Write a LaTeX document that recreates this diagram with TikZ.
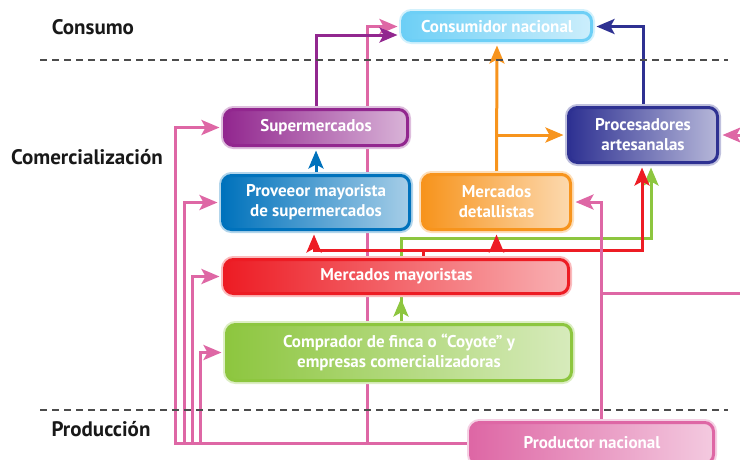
\documentclass[tikz,border=0pt]{standalone}
\usepackage{fontspec}
\setmainfont{PT Sans}
\usetikzlibrary{arrows.meta,backgrounds}
\definecolor{cCyan}{HTML}{6DCFF6}
\definecolor{cPurple}{HTML}{92278F}
\definecolor{cBlue}{HTML}{0072BC}
\definecolor{cOrange}{HTML}{F7941D}
\definecolor{cNavy}{HTML}{2E3192}
\definecolor{cRed}{HTML}{ED1C24}
\definecolor{cGreen}{HTML}{8DC63F}
\definecolor{cPink}{HTML}{DE67A5}
\tikzset{
  box/.style={draw=#1, line width=3pt, rounded corners=9pt, left color=#1, right color=#1!35,
    preaction={draw=#1!30, line width=7pt},
    text=white, font=\bfseries\fontsize{17}{20}\selectfont, align=center, inner sep=0pt},
  flow/.style={draw=#1, line width=3pt, shorten >=3.5pt, -{Stealth[length=18pt,width=15pt,inset=4pt]}},
  link/.style={draw=#1, line width=3pt},
  stage/.style={font=\bfseries\fontsize{21}{24}\selectfont, text=black!90},
  sep/.style={draw=black!70, line width=1.2pt, dash pattern=on 7pt off 5pt}
}
\begin{document}
\begin{tikzpicture}[x=1pt,y=-1pt]
  \useasboundingbox (0,0) rectangle (740,459);
  % stages
  \node[stage] (consumo) at (93,27) {Consumo};
  \node[stage] (comer) at (87,157) {Comercialización};
  \node[stage] (produc) at (101,429) {Producción};
  \coordinate (sepA) at (40,60);
  \coordinate (sepB) at (40,410);
  \draw[sep] (sepA) -- ++(688,0);
  \draw[sep] (sepB) -- ++(688,0);

  % boxes
  \node[box=cCyan, minimum width=189pt, minimum height=28pt] (cons) at (497,26.5) {Consumidor nacional};
  \node[box=cPurple, minimum width=183pt, minimum height=36pt] (sup) at (316,127.5) {Supermercados};
  \node[box=cBlue, minimum width=187pt, minimum height=54pt] (prov) at (316,202.5) {Proveeor mayorista\\de supermercados};
  \node[box=cOrange, minimum width=148pt, minimum height=55pt] (det) at (496.5,202) {Mercados\\detallistas};
  \node[box=cNavy, minimum width=149pt, minimum height=55pt] (proc) at (643,135) {Procesadores\\artesanalas};
  \node[box=cRed, minimum width=344pt, minimum height=34pt] (may) at (396.5,276.5) {Mercados mayoristas};
  \node[box=cGreen, minimum width=345pt, minimum height=56pt] (comp) at (399,352.5) {Comprador de finca o “Coyote” y\\empresas comercializadoras};
  \node[box=cPink, minimum width=243pt, minimum height=41pt] (prod) at (592,443) {Productor nacional};

  \coordinate (rR) at (740,293);
  \coordinate (rP) at (740,135);
  \coordinate (rd) at (423,250);
  \coordinate (gn) at (401,238);

  % connectors
  \begin{scope}[on background layer]
    \draw[flow=cPink] (prod.west) -- (prod.west -| 175,0) |- (sup.west);
    \draw[flow=cPink] (prod.west -| 184,0) |- (prov.west);
    \draw[flow=cPink] (prod.west -| 192,0) |- (may.west);
    \draw[flow=cPink] (prod.west -| 200,0) |- (comp.west);
    \draw[flow=cPink] (prod.west -| 367,0) |- (cons.west);
    \draw[flow=cPurple] (sup.north) |- ([yshift=-8.5pt]cons.west);
    \draw[flow=cBlue] (prov.north) -- (sup.south);
    \draw[flow=cOrange] (det.north) -- (cons.south);
    \draw[flow=cOrange] (det.north |- proc.west) -- (proc.west);
    \draw[flow=cNavy] (proc.north) |- (cons.east);
    \draw[flow=cGreen] (comp.north -| gn) -- (may.south -| gn);
    \draw[flow=cGreen] (comp.north -| gn) -- (gn) -| ([xshift=8pt]proc.south);
    \draw[link=cRed] (may.north -| rd) -- (rd);
    \draw[flow=cRed] (rd) -| ([xshift=-2pt]prov.south);
    \draw[flow=cRed] (rd) -| (det.south);
    \draw[flow=cRed] (rd) -| ([xshift=-1pt]proc.south);
    \draw[flow=cPink] (prod.north -| 601,0) |- (det.east);
    \draw[link=cPink] (rR) -- (rR -| 601,0);
    \draw[flow=cPink] (rP) -- (proc.east);
  \end{scope}
\end{tikzpicture}
\end{document}
